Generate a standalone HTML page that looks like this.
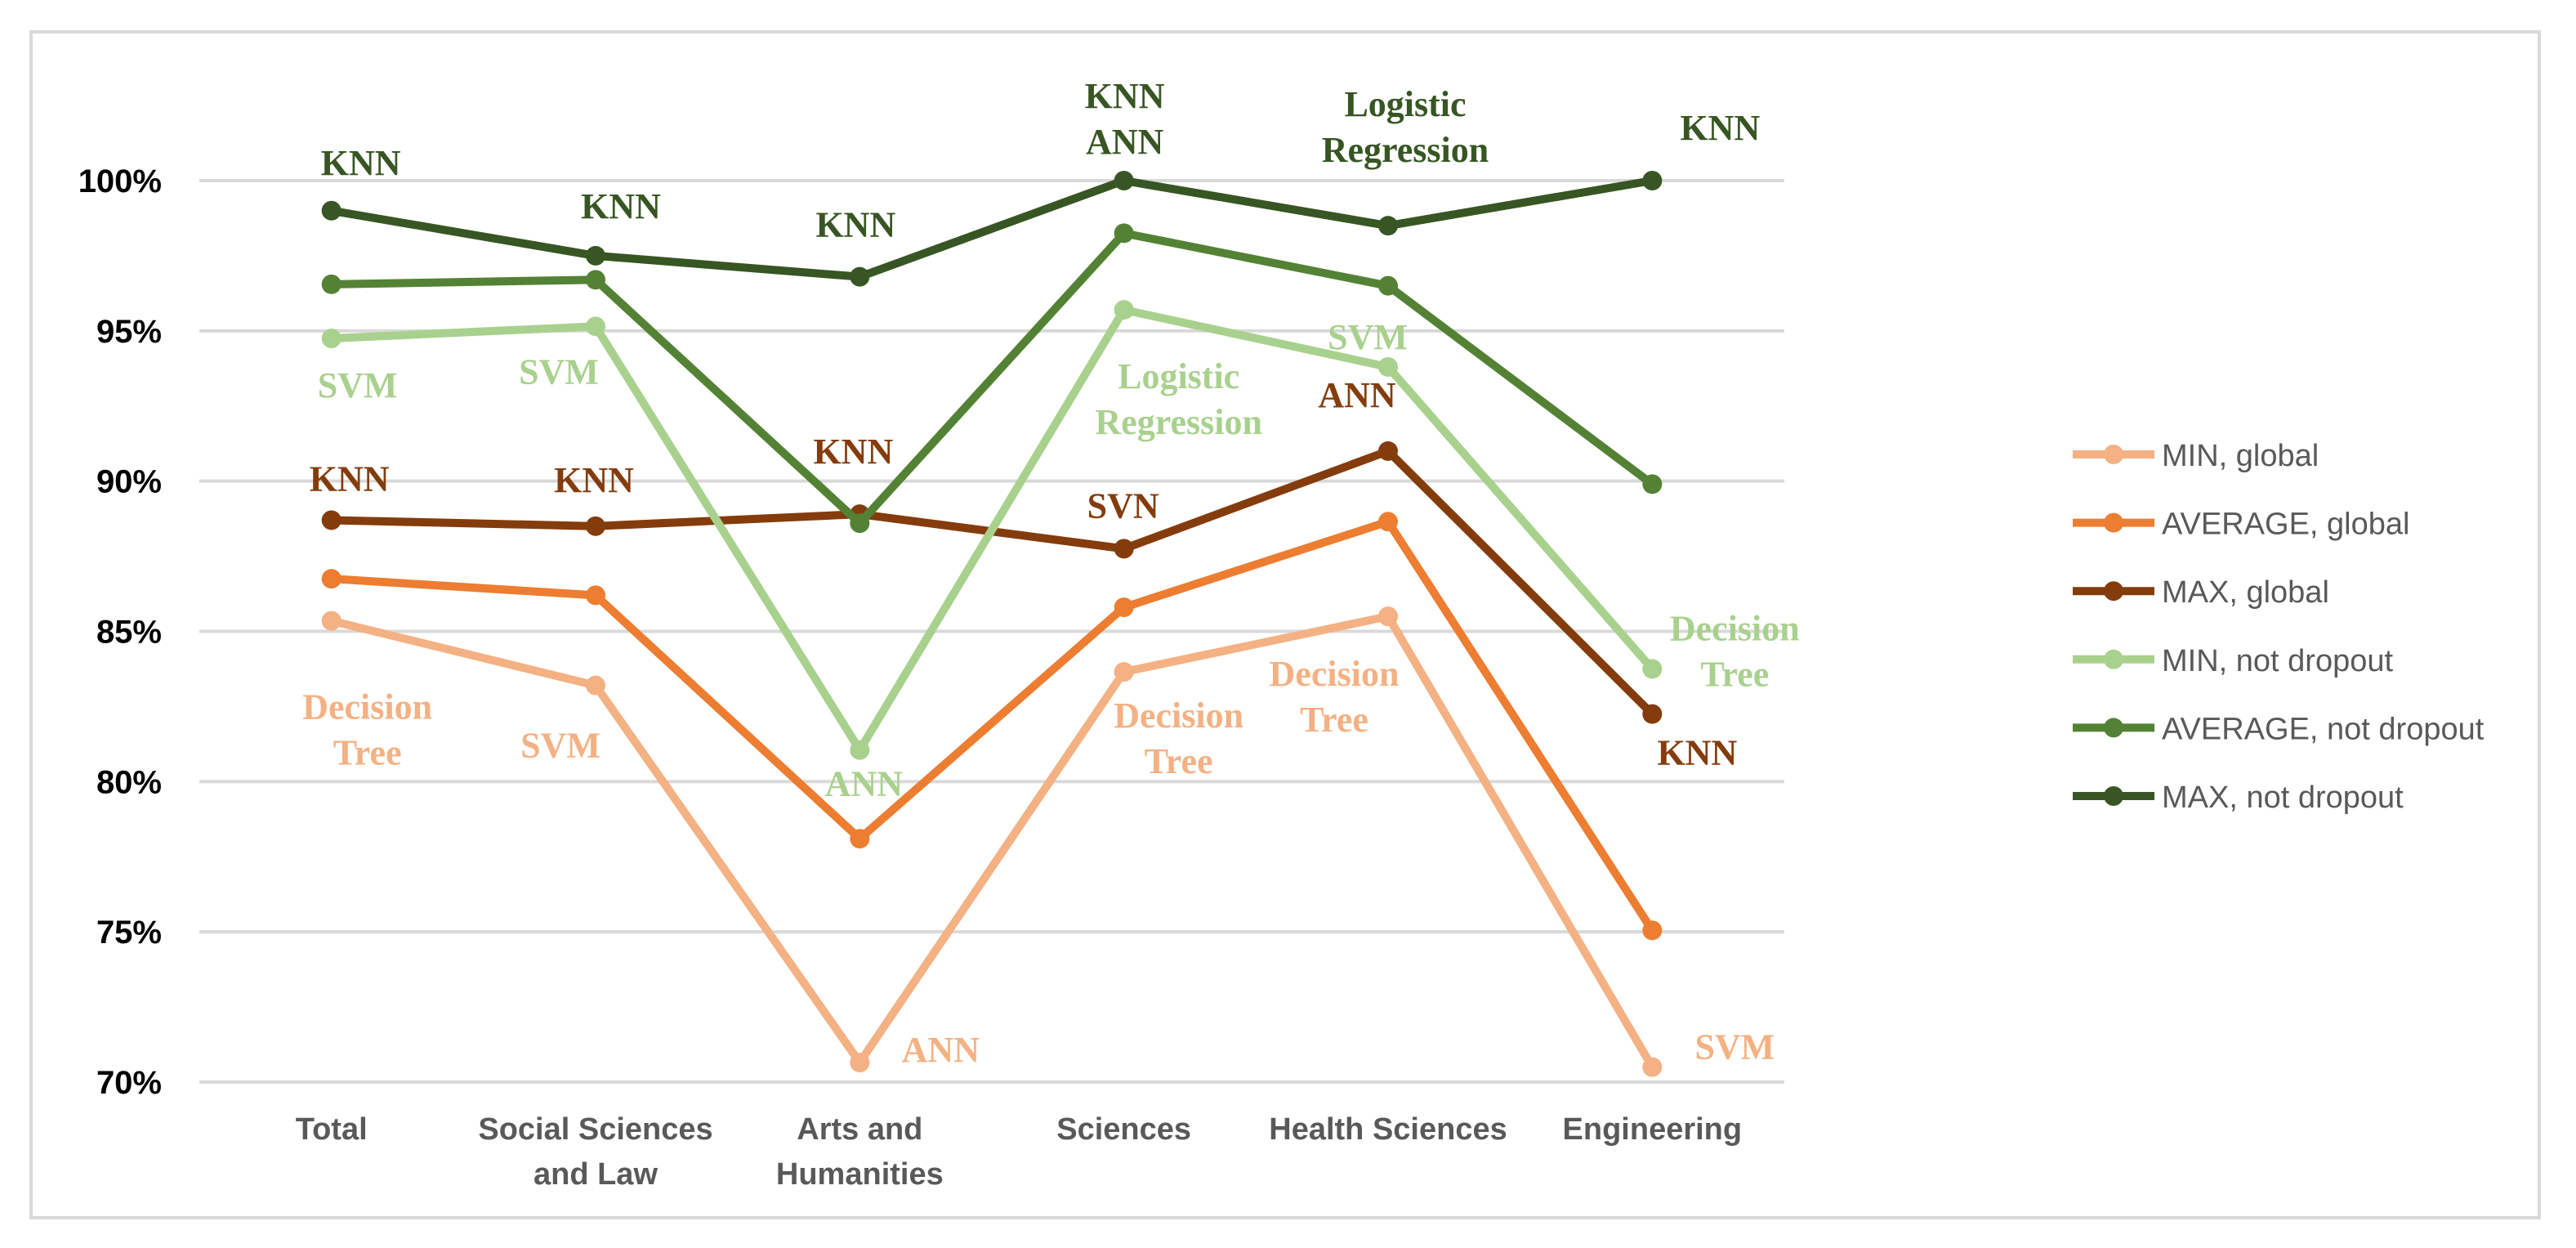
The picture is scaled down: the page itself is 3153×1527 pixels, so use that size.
<!DOCTYPE html>
<html><head><meta charset="utf-8"><style>
html,body{margin:0;padding:0;background:#fff;}
svg{display:block;}
</style></head><body>
<svg id="chart" width="3153" height="1527" viewBox="0 0 3153 1527" xmlns="http://www.w3.org/2000/svg">
<rect x="38" y="39" width="3070" height="1451" fill="#fff" stroke="#d9d9d9" stroke-width="4"/>
<g id="grid"></g><g id="yticks"></g><g id="xlabels"></g><g id="series"></g><g id="dlabels"></g><g id="legend"></g>
</svg>
<script>
const categories = [["Total"],["Social Sciences","and Law"],["Arts and","Humanities"],["Sciences"],["Health Sciences"],["Engineering"]];
const yTicks = [70,75,80,85,90,95,100];
const seriesNames = ["MIN, global","AVERAGE, global","MAX, global","MIN, not dropout","AVERAGE, not dropout","MAX, not dropout"];
const seriesColors = ["#F4B183","#ED7D31","#843C0C","#A9D18E","#548235","#375623"];
const minGlobal = [85.35,83.2,70.65,83.65,85.5,70.5];
const avgGlobal = [86.75,86.2,78.1,85.8,88.65,75.05];
const maxGlobal = [88.7,88.5,88.9,87.75,91.0,82.25];
const minNot = [94.75,95.15,81.05,95.7,93.8,83.75];
const avgNot = [96.55,96.7,88.6,98.25,96.5,89.9];
const maxNot = [99.0,97.5,96.8,100.0,98.5,100.0];
const minGlobalLabels = ["Decision\nTree","SVM","ANN","Decision\nTree","Decision\nTree","SVM"];
const maxGlobalLabels = ["KNN","KNN","KNN","SVN","ANN","KNN"];
const minNotLabels = ["SVM","SVM","ANN","Logistic\nRegression","SVM","Decision\nTree"];
const maxNotLabels = ["KNN","KNN","KNN","KNN\nANN","Logistic\nRegression","KNN"];

const NS="http://www.w3.org/2000/svg";
const X0=244,X1=2184,Y100=221,Y70=1324;
function xPos(i){return X0+(X1-X0)/categories.length*(i+0.5);}
function yPos(v){return Y70-(v-70)/30*(Y70-Y100);}
function mk(tag,attrs,parent){const e=document.createElementNS(NS,tag);for(const k in attrs)e.setAttribute(k,attrs[k]);parent.appendChild(e);return e;}
const grid=document.getElementById('grid'),yt=document.getElementById('yticks'),xl=document.getElementById('xlabels'),sg=document.getElementById('series'),dl=document.getElementById('dlabels'),lg=document.getElementById('legend');
yTicks.forEach(t=>{
  const l=mk('line',{x1:X0,x2:X1,y1:yPos(t),y2:yPos(t),stroke:'#d9d9d9','stroke-width':4},grid);
  
  
  const tx=mk('text',{x:198,y:yPos(t)+14,'text-anchor':'end','font-family':'Liberation Sans, sans-serif','font-size':40,'font-weight':'bold',fill:'#000'},yt);
  tx.textContent=t+'%';
  
  
});
categories.forEach((c,i)=>{
  c.forEach((line,j)=>{
    const tx=mk('text',{x:xPos(i),y:1394+j*55,'text-anchor':'middle','font-family':'Liberation Sans, sans-serif','font-size':38,'font-weight':'bold',fill:'#595959'},xl);
    tx.textContent=line;
    
    
  });
});
const allSeries=[minGlobal,avgGlobal,maxGlobal,minNot,avgNot,maxNot];
allSeries.forEach((s,k)=>{
  const g=mk('g',{},sg);
  
  
  mk('polyline',{points:s.map((v,i)=>xPos(i)+','+yPos(v)).join(' '),fill:'none',stroke:seriesColors[k],'stroke-width':10,'stroke-linejoin':'round'},g);
  s.forEach((v,i)=>{
    const c=mk('circle',{cx:xPos(i),cy:yPos(v),r:12,fill:seriesColors[k]},g);
    
    
  });
});
// label offsets (dx, dy of first line baseline relative to point)
function addLabels(labels,vals,color,offs){
  labels.forEach((lab,i)=>{
    const lines=lab.split('\n');const o=offs[i];
    lines.forEach((ln,j)=>{
      const tx=mk('text',{x:xPos(i)+o[0],y:yPos(vals[i])+o[1]+j*56,'text-anchor':'middle','font-family':'Liberation Serif, serif','font-size':44,'font-weight':'bold',fill:color},dl);
      tx.textContent=ln;
      
      
    });
  });
}
addLabels(maxNotLabels,maxNot,'#375623',[[36,-44],[31,-46],[-5,-49],[1,-89],[21,-134],[83,-50]]);
addLabels(minNotLabels,minNot,'#A9D18E',[[32,72],[-45,70],[5,56],[67,96],[-25,-22],[101,-35]]);
addLabels(maxGlobalLabels,maxGlobal,'#843C0C',[[22,-36],[-2,-42],[-8,-62],[-1,-38],[-38,-54],[55,62]]);
addLabels(minGlobalLabels,minGlobal,'#F4B183',[[44,120],[-43,88],[99,-1],[67,68],[-66,85],[101,-10]]);
seriesNames.forEach((n,k)=>{
  const y=556+k*83.6;
  const g=mk('g',{},lg);
  
  
  mk('line',{x1:2537,x2:2637,y1:y,y2:y,stroke:seriesColors[k],'stroke-width':10},g);
  mk('circle',{cx:2587,cy:y,r:12,fill:seriesColors[k]},g);
  const tx=mk('text',{x:2646,y:y+14,'font-family':'Liberation Sans, sans-serif','font-size':38,fill:'#595959'},g);
  tx.textContent=n;
});
</script>
</body></html>
